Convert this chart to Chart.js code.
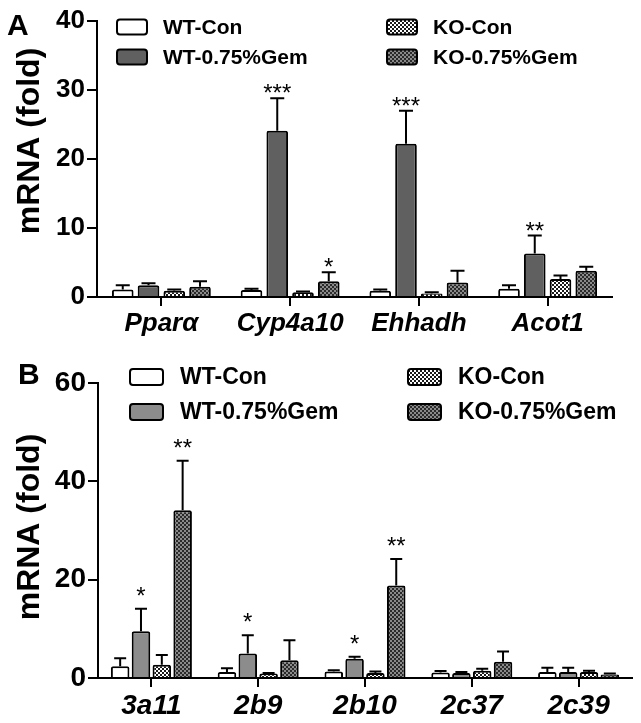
<!DOCTYPE html>
<html>
<head>
<meta charset="utf-8">
<script src="https://cdn.jsdelivr.net/npm/chart.js@4.4.1/dist/chart.umd.min.js"></script>
<style>
  html, body { margin: 0; padding: 0; background: #fff; }
  #wrap { position: relative; width: 641px; height: 723px; }
  canvas { position: absolute; left: 0; }
  #chartA { top: 0; }
  #chartB { top: 330px; }
</style>
</head>
<body>
<div id="wrap">
  <canvas id="chartA" width="641" height="340"></canvas>
  <canvas id="chartB" width="641" height="393"></canvas>
</div>
<script>
// ---- panel A data ----
const genesA = ['Pparα', 'Cyp4a10', 'Ehhadh', 'Acot1'];
const wtConA = [1.1, 1.0, 0.9, 1.2];
const wtConErrA = [0.6, 0.2, 0.2, 0.5];
const wtGemA = [1.7, 24.1, 22.2, 6.3];
const wtGemErrA = [0.3, 4.7, 4.8, 2.6];
const koConA = [0.9, 0.7, 0.5, 2.6];
const koConErrA = [0.2, 0.1, 0.2, 0.5];
const koGemA = [1.5, 2.3, 2.1, 3.8];
const koGemErrA = [0.8, 1.3, 1.7, 0.6];
const sigWtGemA = ['', '***', '***', '**'];
const sigKoGemA = ['', '*', '', ''];

// ---- panel B data ----
const genesB = ['3a11', '2b9', '2b10', '2c37', '2c39'];
const wtConB = [2.4, 1.2, 1.3, 1.1, 1.2];
const wtConErrB = [1.6, 0.8, 0.3, 0.3, 0.9];
const wtGemB = [9.5, 5.0, 3.9, 1.0, 1.2];
const wtGemErrB = [4.6, 3.7, 0.4, 0.2, 0.9];
const koConB = [2.7, 0.9, 1.0, 1.5, 1.2];
const koConErrB = [2.0, 0.1, 0.3, 0.4, 0.3];
const koGemB = [34.1, 3.6, 18.8, 3.3, 0.7];
const koGemErrB = [10.1, 4.1, 5.4, 2.1, 0.2];
const sigWtGemB = ['*', '*', '*', '', ''];
const sigKoGemB = ['**', '', '**', '', ''];

const seriesNames = ['WT-Con', 'WT-0.75%Gem', 'KO-Con', 'KO-0.75%Gem'];
const FONT = "'Liberation Sans', Arial, sans-serif";

// checkered fills for the KO groups
function checker(bg, dot) {
    const c = document.createElement('canvas');
    c.width = 4; c.height = 4;
    const g = c.getContext('2d');
    g.fillStyle = bg;
    g.fillRect(0, 0, 4, 4);
    g.fillStyle = dot;
    g.fillRect(0, 0, 2, 2);
    g.fillRect(2, 2, 2, 2);
    return g.createPattern(c, 'repeat');
}
const koConFill = checker('#ffffff', '#1a1a1a');
const koGemFill = checker('#2a2a2a', '#8a8a8a');

// error bars (upper only) and significance stars
const errorBars = {
    id: 'errorBars',
    afterDatasetsDraw(chart, args, opts) {
        const ctx = chart.ctx;
        const y = chart.scales.y;
        ctx.save();
        chart.data.datasets.forEach((ds, i) => {
            const meta = chart.getDatasetMeta(i);
            meta.data.forEach((bar, j) => {
                const top = y.getPixelForValue(ds.data[j] + ds.errors[j]);
                const barTop = y.getPixelForValue(ds.data[j]);
                ctx.strokeStyle = '#000';
                ctx.lineWidth = 2;
                ctx.beginPath();
                ctx.moveTo(bar.x, barTop);
                ctx.lineTo(bar.x, top);
                ctx.moveTo(bar.x - opts.cap / 2, top);
                ctx.lineTo(bar.x + opts.cap / 2, top);
                ctx.stroke();
                const s = ds.sig ? ds.sig[j] : '';
                if (s) {
                    ctx.fillStyle = '#000';
                    ctx.font = opts.starSize + 'px ' + FONT;
                    ctx.textAlign = 'center';
                    ctx.textBaseline = 'alphabetic';
                    ctx.fillText(s, bar.x, top - opts.starGap + opts.starSize * 0.42);
                }
            });
        });
        ctx.restore();
    }
};

// panel letter, rotated y title and the two-column legend
const decor = {
    id: 'decor',
    afterDraw(chart, args, o) {
        const ctx = chart.ctx;
        ctx.save();
        ctx.fillStyle = '#000';
        ctx.font = 'bold 30px ' + FONT;
        ctx.textAlign = 'left';
        ctx.textBaseline = 'alphabetic';
        ctx.fillText(o.letter, o.letterX, o.letterY);

        ctx.save();
        ctx.translate(o.titleX, o.titleY);
        ctx.rotate(-Math.PI / 2);
        ctx.font = 'bold 32px ' + FONT;
        ctx.textAlign = 'center';
        ctx.textBaseline = 'middle';
        ctx.fillText('mRNA (fold)', 0, 0);
        ctx.restore();

        chart.data.datasets.forEach((ds, i) => {
            const col = Math.floor(i / 2), row = i % 2;
            const bx = o.legX[col], cy = o.legY[row];
            ctx.beginPath();
            ctx.roundRect(bx, cy - o.boxH / 2, o.boxW, o.boxH, 3);
            ctx.fillStyle = ds.backgroundColor;
            ctx.fill();
            ctx.lineWidth = 2;
            ctx.strokeStyle = '#000';
            ctx.stroke();
            ctx.fillStyle = '#000';
            ctx.font = 'bold ' + o.legFont + 'px ' + FONT;
            ctx.textAlign = 'left';
            ctx.textBaseline = 'middle';
            ctx.fillText(ds.label, bx + o.boxW + o.textGap, cy + 1);
        });
        ctx.restore();
    }
};

function makeSets(vals, errs, sigs, gemColor, barPct, catPct) {
    const fills = ['#ffffff', gemColor, koConFill, koGemFill];
    return vals.map((v, i) => ({
        label: seriesNames[i],
        data: v,
        errors: errs[i],
        sig: sigs[i],
        backgroundColor: fills[i],
        borderColor: '#000',
        borderWidth: 2,
        borderRadius: 2,
        borderSkipped: 'bottom',
        barPercentage: barPct,
        categoryPercentage: catPct
    }));
}

function axes(max, step, tickFont, yWidth, xHeight) {
    return {
        x: {
            grid: { offset: false, drawOnChartArea: false, color: '#000', lineWidth: 2, tickLength: 9 },
            border: { color: '#000', width: 2 },
            ticks: { color: '#000', padding: 2, font: { family: FONT, size: tickFont, weight: 'bold', style: 'italic' } },
            afterFit(s) { s.height = xHeight; }
        },
        y: {
            min: 0, max: max,
            grid: { drawOnChartArea: false, color: '#000', lineWidth: 2, tickLength: 10 },
            border: { color: '#000', width: 2 },
            ticks: { stepSize: step, color: '#000', padding: 2, font: { family: FONT, size: tickFont, weight: 'bold' } },
            afterFit(s) { s.width = yWidth; }
        }
    };
}

new Chart(document.getElementById('chartA'), {
    type: 'bar',
    data: {
        labels: genesA,
        datasets: makeSets([wtConA, wtGemA, koConA, koGemA],
            [wtConErrA, wtGemErrA, koConErrA, koGemErrA],
            [null, sigWtGemA, null, sigKoGemA], '#606060', 0.84, 0.8)
    },
    options: {
        responsive: false,
        animation: false,
        layout: { padding: { top: 21, right: 29, left: 0, bottom: 0 } },
        scales: axes(40, 10, 26, 97, 43),
        plugins: {
            legend: { display: false },
            tooltip: { enabled: false },
            errorBars: { cap: 14, starSize: 24, starGap: 7 },
            decor: {
                letter: 'A', letterX: 7, letterY: 35,
                titleX: 30, titleY: 141,
                legX: [117, 387], legY: [27, 57],
                boxW: 30, boxH: 15, legFont: 21, textGap: 16
            }
        }
    },
    plugins: [errorBars, decor]
});

new Chart(document.getElementById('chartB'), {
    type: 'bar',
    data: {
        labels: genesB,
        datasets: makeSets([wtConB, wtGemB, koConB, koGemB],
            [wtConErrB, wtGemErrB, koConErrB, koGemErrB],
            [null, sigWtGemB, null, sigKoGemB], '#8c8c8c', 0.89, 0.78)
    },
    options: {
        responsive: false,
        animation: false,
        layout: { padding: { top: 53, right: 9, left: 0, bottom: 0 } },
        scales: axes(60, 20, 28, 98, 45),
        plugins: {
            legend: { display: false },
            tooltip: { enabled: false },
            errorBars: { cap: 12, starSize: 24, starGap: 15 },
            decor: {
                letter: 'B', letterX: 18, letterY: 54,
                titleX: 30, titleY: 197,
                legX: [130, 408], legY: [47, 82],
                boxW: 33, boxH: 16, legFont: 23, textGap: 17
            }
        }
    },
    plugins: [errorBars, decor]
});
</script>
</body>
</html>
